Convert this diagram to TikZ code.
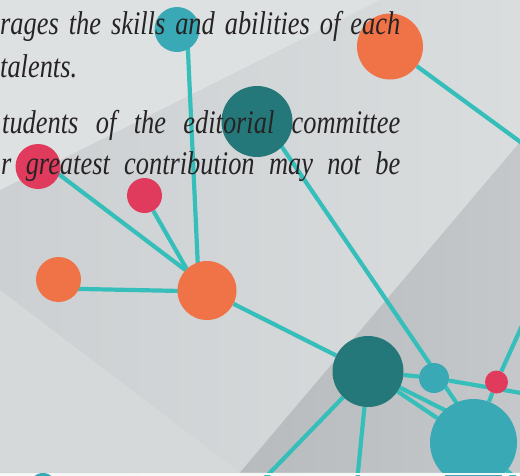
\documentclass[tikz,border=0pt]{standalone}
\usepackage{fontspec}
\setmainfont{Liberation Serif}
\usetikzlibrary{calc}
\definecolor{corange}{HTML}{F07247}
\definecolor{cred}{HTML}{E03A5D}
\definecolor{cteal}{HTML}{39A9B5}
\definecolor{cdark}{HTML}{24787A}
\definecolor{clink}{HTML}{36BFBA}
\definecolor{ctext}{HTML}{262324}
\definecolor{bgbase}{HTML}{D6D9DB}
\definecolor{bgmidL}{HTML}{CCD0D2}
\definecolor{bgmidR}{HTML}{DADDDE}
\definecolor{bgtop}{HTML}{DEE1E2}
\definecolor{bglow}{HTML}{D5D9DA}
\definecolor{bgdarkL}{HTML}{B7BBBD}
\definecolor{bgdarkR}{HTML}{C5C8CA}
\definecolor{cwhite}{HTML}{F5F6F6}
\pgfdeclarelayer{bg}
\pgfdeclarelayer{edges}
\pgfsetlayers{bg,edges,main}
\newcommand\pjline[2]{\scalebox{0.8}[1]{\makebox[#1][s]{#2}}}
\tikzset{
  dot/.style={circle, inner sep=0pt, minimum size=#1},
  orgdot/.style={dot=#1, fill=corange},
  reddot/.style={dot=#1, fill=cred},
  tealdot/.style={dot=#1, fill=cteal},
  darkdot/.style={dot=#1, fill=cdark},
  link/.style={draw=clink, line width=4.2pt},
  para/.style={anchor=base west, inner sep=0pt, text=ctext, font=\itshape\fontsize{33}{33}\selectfont}
}
\begin{document}
\begin{tikzpicture}[x=1pt,y=-1pt]
\useasboundingbox (0,0) rectangle (520,475);
% background facets
\begin{pgfonlayer}{bg}
\fill[bgbase] (0,0) rectangle (520,475);
\shade[left color=bgmidL, right color=bgmidR] (0,190) -- (380,0) -- (520,0) -- (520,475) -- (0,475) -- cycle;
\fill[bgtop] (0,0) -- (380,0) -- (0,190) -- cycle;
\fill[bglow] (0,290) -- (240,472.5) -- (0,472.5) -- cycle;
\shade[left color=bgdarkL, right color=bgdarkR] (240,472.5) -- (520,142) -- (520,472.5) -- cycle;
\end{pgfonlayer}
% nodes
\node[tealdot=45] (t1) at (177,29.5) {};
\node[orgdot=66] (o1) at (390,46.5) {};
\node[darkdot=71] (d1) at (257,121.5) {};
\node[reddot=45] (r1) at (38,166.5) {};
\node[reddot=35] (r2) at (144.5,195.5) {};
\node[orgdot=45] (o2) at (58.5,279.5) {};
\node[orgdot=59] (o3) at (207,290.5) {};
\node[darkdot=71] (d2) at (368,371.5) {};
\node[tealdot=30] (t2) at (434,378) {};
\node[reddot=23] (r3) at (496.5,382) {};
\node[tealdot=87] (t3) at (473.5,442.5) {};
% free ends
\coordinate (e1) at (530,149);
\coordinate (e2) at (530,308);
\coordinate (e3) at (530,394.5);
\coordinate (e4) at (262,481);
\coordinate (e5) at (357,482);
\coordinate (e6) at (530,490);
% connectors
\begin{pgfonlayer}{edges}
\draw[link] ($(t1)+(10,0)$) -- ($(o3)+(-8,0)$);
\draw[link] ($(r1)+(0,-8)$) -- ($(o3)+(-17,-17)$);
\draw[link] (r2) -- ($(o3)+(-8,0)$);
\draw[link] ($(o2)+(0,9)$) -- ($(o3)+(0,1)$);
\draw[link] (o3) -- (d2);
\draw[link] ($(d1)+(7.6,0)$) -- ($(t3)+(10,0)$);
\draw[link] (d2) -- (t2);
\draw[link] (t2) -- (e3);
\draw[link] (r3) -- (e2);
\draw[link] (r3) -- (t3);
\draw[link] (d2) -- (t3);
\draw[link] (d2) -- ($(t3)+(0,-18)$);
\draw[link] (d2) -- (e4);
\draw[link] (d2) -- (e5);
\draw[link] (t3) -- (e6);
\draw[link] (o1) -- (e1);
\end{pgfonlayer}
% text
\node[para] (l1) at (0,34) {\pjline{500pt}{rages the skills and abilities of each}};
\node[para] (l2) at (0,77) {\scalebox{0.8}[1]{talents.}};
\node[para] (l3) at (2,133) {\pjline{497.5pt}{tudents of the editorial committee}};
\node[para] (l4) at (1,174) {\pjline{498.8pt}{r greatest contribution may not be}};
% bottom strip
\fill[cwhite] (0,472.5) rectangle (520,475);
\node[tealdot=28] (t4) at (43,487) {};
\end{tikzpicture}
\end{document}
